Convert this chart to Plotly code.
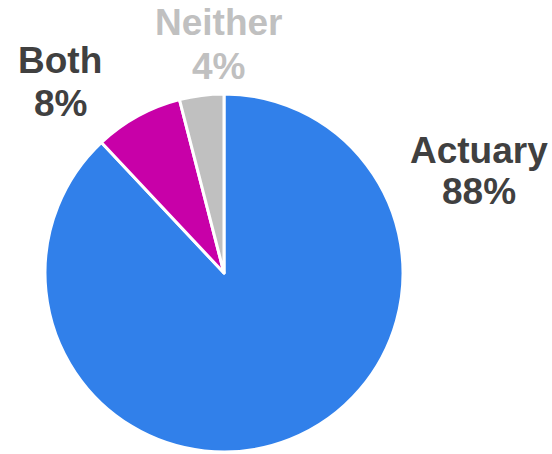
import plotly.graph_objects as go

labels = ["Actuary", "Both", "Neither"]
values = [88, 8, 4]
slice_colors = ["#3180EA", "#C800A8", "#C0C0C0"]
label_colors = ["#404040", "#404040", "#C0C0C0"]

W, H = 552, 454
cx, cy, r = 224, 273, 179

fig = go.Figure(go.Pie(
    labels=labels, values=values, sort=False, direction="clockwise", rotation=0,
    marker=dict(colors=slice_colors, line=dict(color="white", width=3)),
    textinfo="none", hoverinfo="label+percent", showlegend=False,
    domain=dict(x=[(cx - r) / W, (cx + r) / W], y=[(H - (cy + r)) / H, (H - (cy - r)) / H]),
))

# label line centers in pixels (name line, percent line)
label_pos = {"Actuary": (479, 150, 192), "Both": (60, 60, 103), "Neither": (218, 22, 66)}
total = sum(values)
for lab, val, col in zip(labels, values, label_colors):
    x, y1, y2 = label_pos[lab]
    for txt, yy in ((lab, y1), (f"{round(100 * val / total)}%", y2)):
        fig.add_annotation(x=x / W, y=1 - yy / H, xref="paper", yref="paper",
                           text=f"<b>{txt}</b>", showarrow=False,
                           xanchor="center", yanchor="middle",
                           font=dict(family="Liberation Sans, Arial", size=37, color=col))

fig.update_layout(width=W, height=H, margin=dict(l=0, r=0, t=0, b=0),
                  paper_bgcolor="white", plot_bgcolor="white")
fig.write_html("out.html")
